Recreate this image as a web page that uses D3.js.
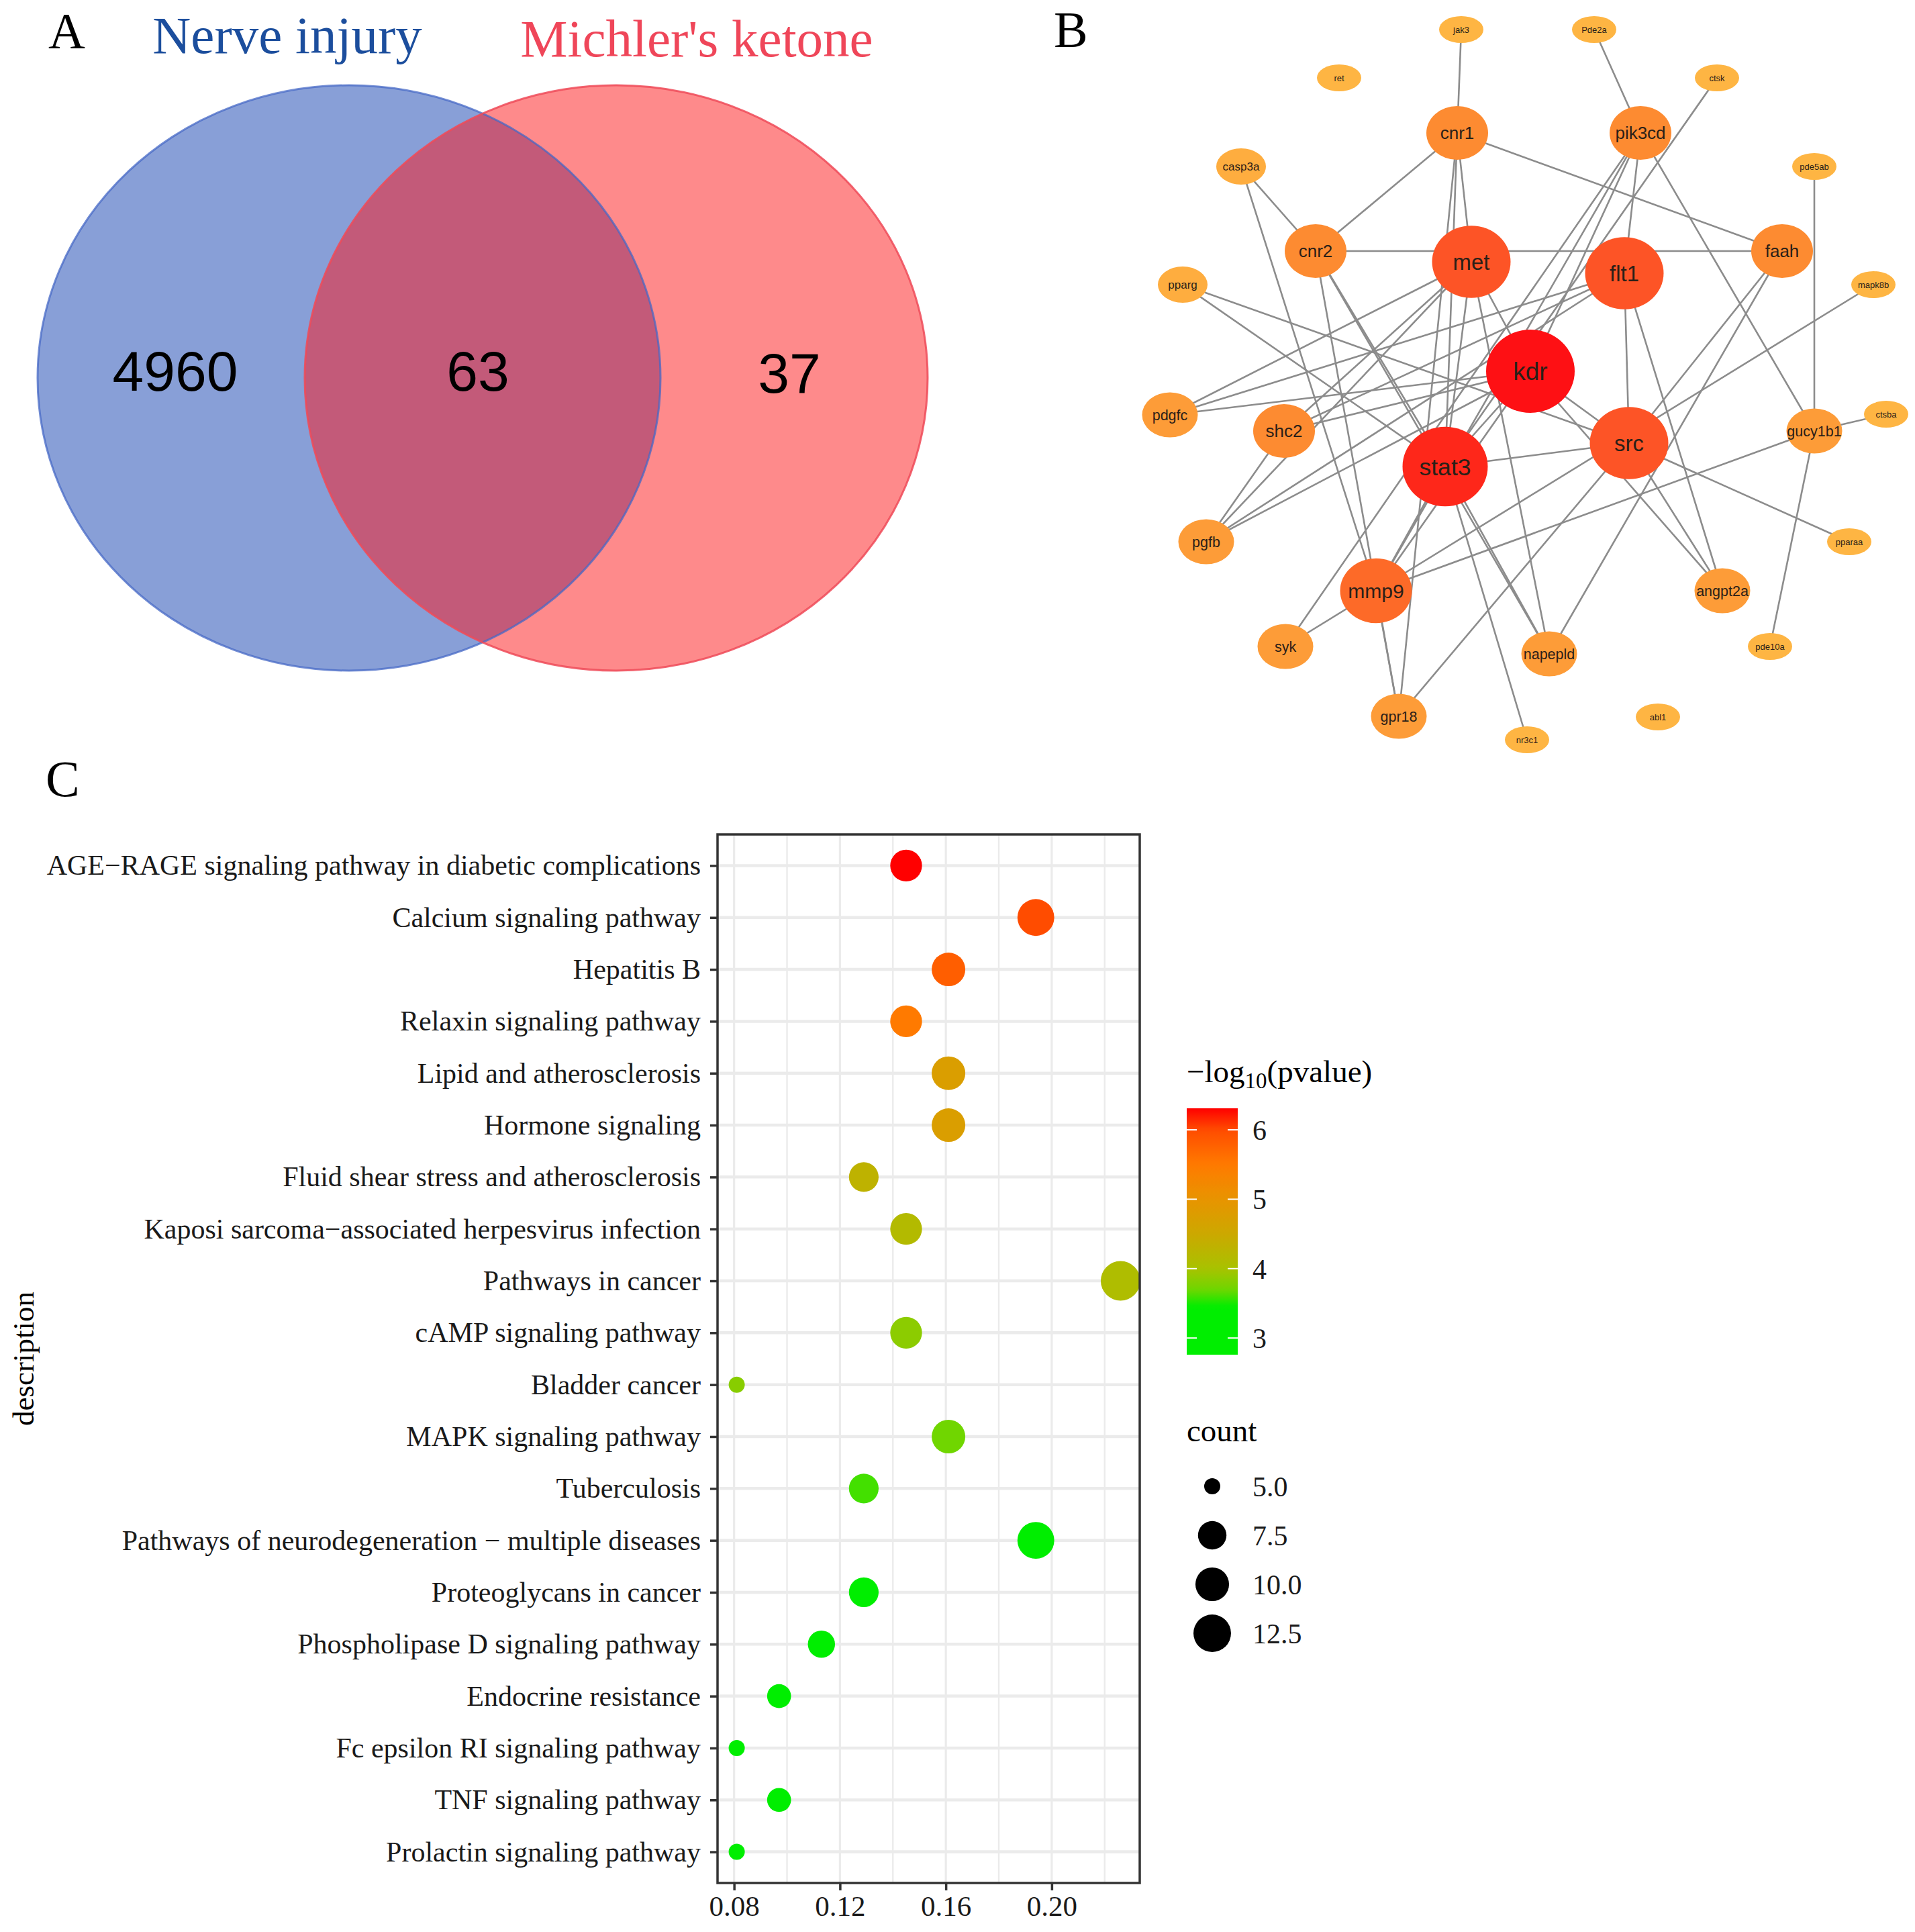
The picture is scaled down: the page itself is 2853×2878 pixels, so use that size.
<!DOCTYPE html>
<html>
<head>
<meta charset="utf-8">
<script src="https://cdn.jsdelivr.net/npm/d3@7"></script>
<style>
  body { margin: 0; background: #fff; }
  svg { display: block; }
</style>
</head>
<body>
<div class="svg-container"></div>
<script>
// ---- panel A data
const vennSets = ["Nerve injury", "Michler's ketone"];
const vennCounts = [4960, 63, 37]; // left only, both, right only

// ---- panel B data (network layout in layout units)
const nodeNames = ["jak3", "Pde2a", "ret", "ctsk", "cnr1", "pik3cd", "casp3a", "pde5ab", "cnr2", "faah",
  "met", "flt1", "pparg", "mapk8b", "kdr", "pdgfc", "ctsba", "shc2", "gucy1b1", "src",
  "stat3", "pgfb", "pparaa", "mmp9", "angpt2a", "syk", "pde10a", "napepld", "gpr18", "abl1", "nr3c1"];
const nodeX = [47.7, 67.5, 29.5, 85.8, 47.1, 74.4, 14.9, 100.3, 26.0, 95.5,
  49.2, 72.0, 6.2, 109.1, 58.0, 4.3, 111.0, 21.3, 100.3, 72.7,
  45.3, 9.7, 105.5, 35.0, 86.6, 21.5, 93.7, 60.8, 38.4, 77.0, 57.5];
const nodeY = [4.4, 4.4, 11.6, 11.6, 19.8, 19.8, 24.8, 24.8, 37.4, 37.4,
  39.0, 40.7, 42.4, 42.4, 55.3, 61.8, 61.7, 64.2, 64.2, 66.0,
  69.5, 80.7, 80.7, 88.0, 88.0, 96.3, 96.3, 97.4, 106.7, 106.8, 110.2];
const nodeDegree = [1, 1, 0, 1, 6, 6, 2, 1, 6, 6,
  11, 11, 2, 1, 14, 4, 1, 6, 4, 11,
  13, 4, 1, 9, 4, 4, 1, 4, 4, 0, 1];
const edgeList = [
  ["jak3", "cnr1"], ["Pde2a", "pik3cd"], ["ctsk", "stat3"], ["cnr1", "cnr2"], ["cnr1", "faah"],
  ["cnr1", "met"], ["cnr1", "stat3"], ["cnr1", "gpr18"], ["pik3cd", "flt1"], ["pik3cd", "gucy1b1"],
  ["pik3cd", "syk"], ["pik3cd", "kdr"], ["pik3cd", "mmp9"], ["casp3a", "cnr2"], ["casp3a", "mmp9"],
  ["pde5ab", "gucy1b1"], ["cnr2", "faah"], ["cnr2", "gpr18"], ["cnr2", "stat3"], ["cnr2", "napepld"],
  ["met", "kdr"], ["met", "stat3"], ["met", "pdgfc"], ["met", "shc2"], ["met", "pgfb"],
  ["met", "napepld"], ["flt1", "src"], ["flt1", "angpt2a"], ["flt1", "pdgfc"], ["flt1", "shc2"],
  ["flt1", "pgfb"], ["faah", "src"], ["faah", "napepld"], ["pparg", "src"], ["pparg", "stat3"],
  ["mapk8b", "mmp9"], ["kdr", "stat3"], ["kdr", "src"], ["kdr", "angpt2a"], ["kdr", "pdgfc"],
  ["kdr", "shc2"], ["kdr", "pgfb"], ["kdr", "mmp9"], ["shc2", "pgfb"], ["ctsba", "gucy1b1"],
  ["gucy1b1", "mmp9"], ["gucy1b1", "pde10a"], ["src", "stat3"], ["src", "pparaa"], ["src", "angpt2a"],
  ["src", "gpr18"], ["stat3", "mmp9"], ["stat3", "napepld"], ["stat3", "nr3c1"], ["mmp9", "syk"],
  ["mmp9", "gpr18"]
];

// ---- panel C data
const descriptions = [
  "AGE\u2212RAGE signaling pathway in diabetic complications",
  "Calcium signaling pathway",
  "Hepatitis B",
  "Relaxin signaling pathway",
  "Lipid and atherosclerosis",
  "Hormone signaling",
  "Fluid shear stress and atherosclerosis",
  "Kaposi sarcoma\u2212associated herpesvirus infection",
  "Pathways in cancer",
  "cAMP signaling pathway",
  "Bladder cancer",
  "MAPK signaling pathway",
  "Tuberculosis",
  "Pathways of neurodegeneration \u2212 multiple diseases",
  "Proteoglycans in cancer",
  "Phospholipase D signaling pathway",
  "Endocrine resistance",
  "Fc epsilon RI signaling pathway",
  "TNF signaling pathway",
  "Prolactin signaling pathway"
];
const geneRatio = [0.145, 0.194, 0.161, 0.145, 0.161, 0.161, 0.129, 0.145, 0.226, 0.145,
  0.081, 0.161, 0.129, 0.194, 0.129, 0.113, 0.097, 0.081, 0.097, 0.081];
const geneCount = [9, 12, 10, 9, 10, 10, 8, 9, 14, 9, 5, 10, 8, 12, 8, 7, 6, 5, 6, 5];
const negLogP = [6.31, 6.0, 5.8, 5.5, 4.75, 4.75, 4.3, 4.15, 4.1, 3.85,
  3.83, 3.7, 3.6, 3.4, 3.3, 3.15, 3.0, 2.95, 2.85, 2.76];
const xTicks = [0.08, 0.12, 0.16, 0.20];
const xMinorTicks = [0.10, 0.14, 0.18, 0.22];
const pTicks = [3, 4, 5, 6];
const countTicks = [5.0, 7.5, 10.0, 12.5];

const width = 2853;
const height = 2878;
const serif = "'Liberation Serif', 'Times New Roman', serif";
const sans = "'Liberation Sans', Arial, sans-serif";

const svg = d3.select('.svg-container')
  .append('svg')
  .attr('width', width)
  .attr('height', height)
  .style('background', '#fff');

// panel letters
svg.selectAll('text.panel-letter')
  .data([['A', 72, 72], ['B', 1570, 70], ['C', 68, 1186]])
  .enter()
  .append('text')
  .attr('class', 'panel-letter')
  .attr('x', (d) => d[1])
  .attr('y', (d) => d[2])
  .attr('font-family', serif)
  .attr('font-size', 76)
  .text((d) => d[0]);

// ================= A: venn
const venn = svg.append('g');
const setX = d3.scaleLinear().domain([0, 1]).range([520, 918]);
const vCy = 563, vRx = 464, vRy = 436;

const defs = svg.append('defs');
defs.append('clipPath').attr('id', 'blueClip')
  .append('ellipse')
  .attr('cx', setX(0)).attr('cy', vCy).attr('rx', vRx).attr('ry', vRy);

venn.append('ellipse')
  .attr('cx', setX(0)).attr('cy', vCy).attr('rx', vRx).attr('ry', vRy)
  .attr('fill', '#889fd7');
venn.append('ellipse')
  .attr('cx', setX(1)).attr('cy', vCy).attr('rx', vRx).attr('ry', vRy)
  .attr('fill', '#fe8a8b');
venn.append('ellipse')
  .attr('cx', setX(1)).attr('cy', vCy).attr('rx', vRx).attr('ry', vRy)
  .attr('clip-path', 'url(#blueClip)')
  .attr('fill', '#c35a79');
venn.append('ellipse')
  .attr('cx', setX(0)).attr('cy', vCy).attr('rx', vRx).attr('ry', vRy)
  .attr('fill', 'none').attr('stroke', '#4668c6').attr('stroke-width', 3).attr('stroke-opacity', 0.75);
venn.append('ellipse')
  .attr('cx', setX(1)).attr('cy', vCy).attr('rx', vRx).attr('ry', vRy)
  .attr('fill', 'none').attr('stroke', '#ee4a58').attr('stroke-width', 3).attr('stroke-opacity', 0.85);

venn.selectAll('text.set-name')
  .data(vennSets)
  .enter()
  .append('text')
  .attr('class', 'set-name')
  .attr('x', (d, i) => i === 0 ? 428 : 1038)
  .attr('y', (d, i) => i === 0 ? 79 : 84)
  .attr('text-anchor', 'middle')
  .attr('font-family', serif)
  .attr('font-size', 79)
  .attr('fill', (d, i) => i === 0 ? '#1c4e9d' : '#ef4659')
  .text((d) => d);

const countPos = d3.scaleLinear().domain([0, 2]).range([261, 1176]);
venn.selectAll('text.count')
  .data(vennCounts)
  .enter()
  .append('text')
  .attr('class', 'count')
  .attr('x', (d, i) => i === 1 ? 712 : countPos(i))
  .attr('y', (d, i) => i === 2 ? 585 : 582)
  .attr('text-anchor', 'middle')
  .attr('font-family', sans)
  .attr('font-size', 84)
  .attr('fill', '#000')
  .text((d) => d);

// ================= B: network
const net = svg.append('g');
const nx = d3.scaleLinear().domain([0, 115]).range([1700, 2850]);
const ny = d3.scaleLinear().domain([0, 115]).range([0, 1150]);
const rxScale = d3.scaleLinear().domain([1, 2, 6, 14]).range([33, 37, 46, 66]).clamp(true);
const ryScale = d3.scaleLinear().domain([1, 2, 6, 14]).range([20, 27, 40, 62]).clamp(true);
const fontScale = d3.scaleLinear().domain([1, 2, 6, 14]).range([13, 17, 26, 37]).clamp(true);
const nodeColour = d3.scaleLinear()
  .domain([1, 6, 9, 11, 14])
  .range(['#feb543', '#fd8b31', '#fd6a28', '#fd5426', '#fe1014'])
  .clamp(true);

const nodes = nodeNames.map((name, i) => ({ name, x: nodeX[i], y: nodeY[i], degree: nodeDegree[i] }));
const nodeByName = new Map(nodes.map((n) => [n.name, n]));

net.append('g')
  .selectAll('line')
  .data(edgeList)
  .enter()
  .append('line')
  .attr('x1', (d) => nx(nodeByName.get(d[0]).x))
  .attr('y1', (d) => ny(nodeByName.get(d[0]).y))
  .attr('x2', (d) => nx(nodeByName.get(d[1]).x))
  .attr('y2', (d) => ny(nodeByName.get(d[1]).y))
  .attr('stroke', '#8c8c8c')
  .attr('stroke-width', 2.6);

const nodeG = net.append('g')
  .selectAll('g')
  .data(nodes.slice().sort((a, b) => a.degree - b.degree))
  .enter()
  .append('g')
  .attr('transform', (d) => `translate(${nx(d.x)},${ny(d.y)})`);

nodeG.append('ellipse')
  .attr('rx', (d) => rxScale(d.degree))
  .attr('ry', (d) => ryScale(d.degree))
  .attr('fill', (d) => nodeColour(d.degree));

nodeG.append('text')
  .attr('text-anchor', 'middle')
  .attr('dy', '0.36em')
  .attr('font-family', sans)
  .attr('font-size', (d) => fontScale(d.degree))
  .attr('fill', '#2a2018')
  .text((d) => d.name);

// ================= C: dot plot
const plot = { left: 1069, right: 1698, top: 1243, bottom: 2805 };
const xPad = (d3.max(geneRatio) - d3.min(geneRatio)) * 0.05;
const x = d3.scaleLinear()
  .domain([d3.min(geneRatio) - xPad, d3.max(geneRatio) + xPad])
  .range([plot.left, plot.right]);
const y = d3.scalePoint()
  .domain(descriptions)
  .range([plot.top, plot.bottom])
  .padding(0.6);
const pColour = d3.scaleLinear()
  .domain([2.76, 3.45, 3.7, 4.0, 4.5, 5.0, 5.5, 6.0, 6.31])
  .range(['#00ee00', '#00ee00', '#70d600', '#a8c200', '#cca800', '#e89400', '#ff7a00', '#ff4c00', '#ff0000'])
  .clamp(true);
const sizeSqrt = d3.scaleSqrt().domain([0, 9]).range([0, 35]);
const dotR = (c) => (24 + sizeSqrt(c - 5)) / 2;

const cg = svg.append('g');

// grid
cg.selectAll('line.vgrid')
  .data(xTicks.concat(xMinorTicks))
  .enter()
  .append('line')
  .attr('x1', (d) => x(d)).attr('x2', (d) => x(d))
  .attr('y1', plot.top).attr('y2', plot.bottom)
  .attr('stroke', '#ebebeb')
  .attr('stroke-width', (d) => xTicks.includes(d) ? 3.2 : 2.4);
cg.selectAll('line.hgrid')
  .data(descriptions)
  .enter()
  .append('line')
  .attr('x1', plot.left).attr('x2', plot.right)
  .attr('y1', (d) => y(d)).attr('y2', (d) => y(d))
  .attr('stroke', '#ebebeb')
  .attr('stroke-width', 4.5);

// points
cg.selectAll('circle.dot')
  .data(descriptions)
  .enter()
  .append('circle')
  .attr('class', 'dot')
  .attr('cx', (d, i) => x(geneRatio[i]))
  .attr('cy', (d) => y(d))
  .attr('r', (d, i) => dotR(geneCount[i]))
  .attr('fill', (d, i) => pColour(negLogP[i]));

// border
cg.append('rect')
  .attr('x', plot.left).attr('y', plot.top)
  .attr('width', plot.right - plot.left).attr('height', plot.bottom - plot.top)
  .attr('fill', 'none').attr('stroke', '#333').attr('stroke-width', 3.5);

// y axis
const yAxis = cg.append('g')
  .attr('transform', `translate(${plot.left},0)`)
  .call(d3.axisLeft(y).tickSize(11).tickPadding(14));
yAxis.select('.domain').remove();
yAxis.selectAll('line').attr('stroke', '#333').attr('stroke-width', 3.5);
yAxis.selectAll('text')
  .attr('font-family', serif)
  .attr('font-size', 42)
  .attr('fill', '#1a1a1a');

// x axis
const xAxis = cg.append('g')
  .attr('transform', `translate(0,${plot.bottom})`)
  .call(d3.axisBottom(x).tickValues(xTicks).tickFormat(d3.format('.2f')).tickSize(11).tickPadding(7));
xAxis.select('.domain').remove();
xAxis.selectAll('line').attr('stroke', '#333').attr('stroke-width', 3.5);
xAxis.selectAll('text')
  .attr('font-family', serif)
  .attr('font-size', 43)
  .attr('fill', '#1a1a1a');

cg.append('text')
  .attr('transform', `translate(50,${(plot.top + plot.bottom) / 2}) rotate(-90)`)
  .attr('text-anchor', 'middle')
  .attr('font-family', serif)
  .attr('font-size', 45)
  .text('description');

// colour legend
const lg = svg.append('g');
const legTitle = lg.append('text')
  .attr('x', 1768).attr('y', 1612)
  .attr('font-family', serif)
  .attr('font-size', 47);
legTitle.append('tspan').text('\u2212log');
legTitle.append('tspan').attr('font-size', 33).attr('dy', 9).text('10');
legTitle.append('tspan').attr('dy', -9).text('(pvalue)');

const barY = d3.scaleLinear().domain([d3.min(negLogP), d3.max(negLogP)]).range([2018, 1651]);
const grad = defs.append('linearGradient')
  .attr('id', 'pgrad')
  .attr('x1', 0).attr('y1', 1).attr('x2', 0).attr('y2', 0);
const gradSteps = d3.range(0, 1.0001, 0.02);
grad.selectAll('stop')
  .data(gradSteps)
  .enter()
  .append('stop')
  .attr('offset', (d) => d)
  .attr('stop-color', (d) => pColour(barY.domain()[0] + d * (barY.domain()[1] - barY.domain()[0])));

lg.append('rect')
  .attr('x', 1768).attr('y', barY.range()[1])
  .attr('width', 76).attr('height', barY.range()[0] - barY.range()[1])
  .attr('fill', 'url(#pgrad)');
lg.selectAll('line.btick')
  .data(pTicks.flatMap((t) => [[t, 1768], [t, 1829]]))
  .enter()
  .append('line')
  .attr('x1', (d) => d[1]).attr('x2', (d) => d[1] + 15)
  .attr('y1', (d) => barY(d[0])).attr('y2', (d) => barY(d[0]))
  .attr('stroke', '#fff').attr('stroke-width', 2);
lg.selectAll('text.blab')
  .data(pTicks)
  .enter()
  .append('text')
  .attr('x', 1866)
  .attr('y', (d) => barY(d))
  .attr('dy', '0.35em')
  .attr('font-family', serif)
  .attr('font-size', 42)
  .attr('fill', '#1a1a1a')
  .text((d) => d);

// size legend
lg.append('text')
  .attr('x', 1768).attr('y', 2147)
  .attr('font-family', serif)
  .attr('font-size', 47)
  .text('count');
const sizeY = d3.scalePoint().domain(countTicks).range([2214, 2433]);
lg.selectAll('circle.sz')
  .data(countTicks)
  .enter()
  .append('circle')
  .attr('cx', 1806)
  .attr('cy', (d) => sizeY(d))
  .attr('r', (d) => dotR(d))
  .attr('fill', '#000');
lg.selectAll('text.sz')
  .data(countTicks)
  .enter()
  .append('text')
  .attr('x', 1866)
  .attr('y', (d) => sizeY(d))
  .attr('dy', '0.35em')
  .attr('font-family', serif)
  .attr('font-size', 42)
  .attr('fill', '#1a1a1a')
  .text((d) => d3.format('.1f')(d));
</script>
</body>
</html>
